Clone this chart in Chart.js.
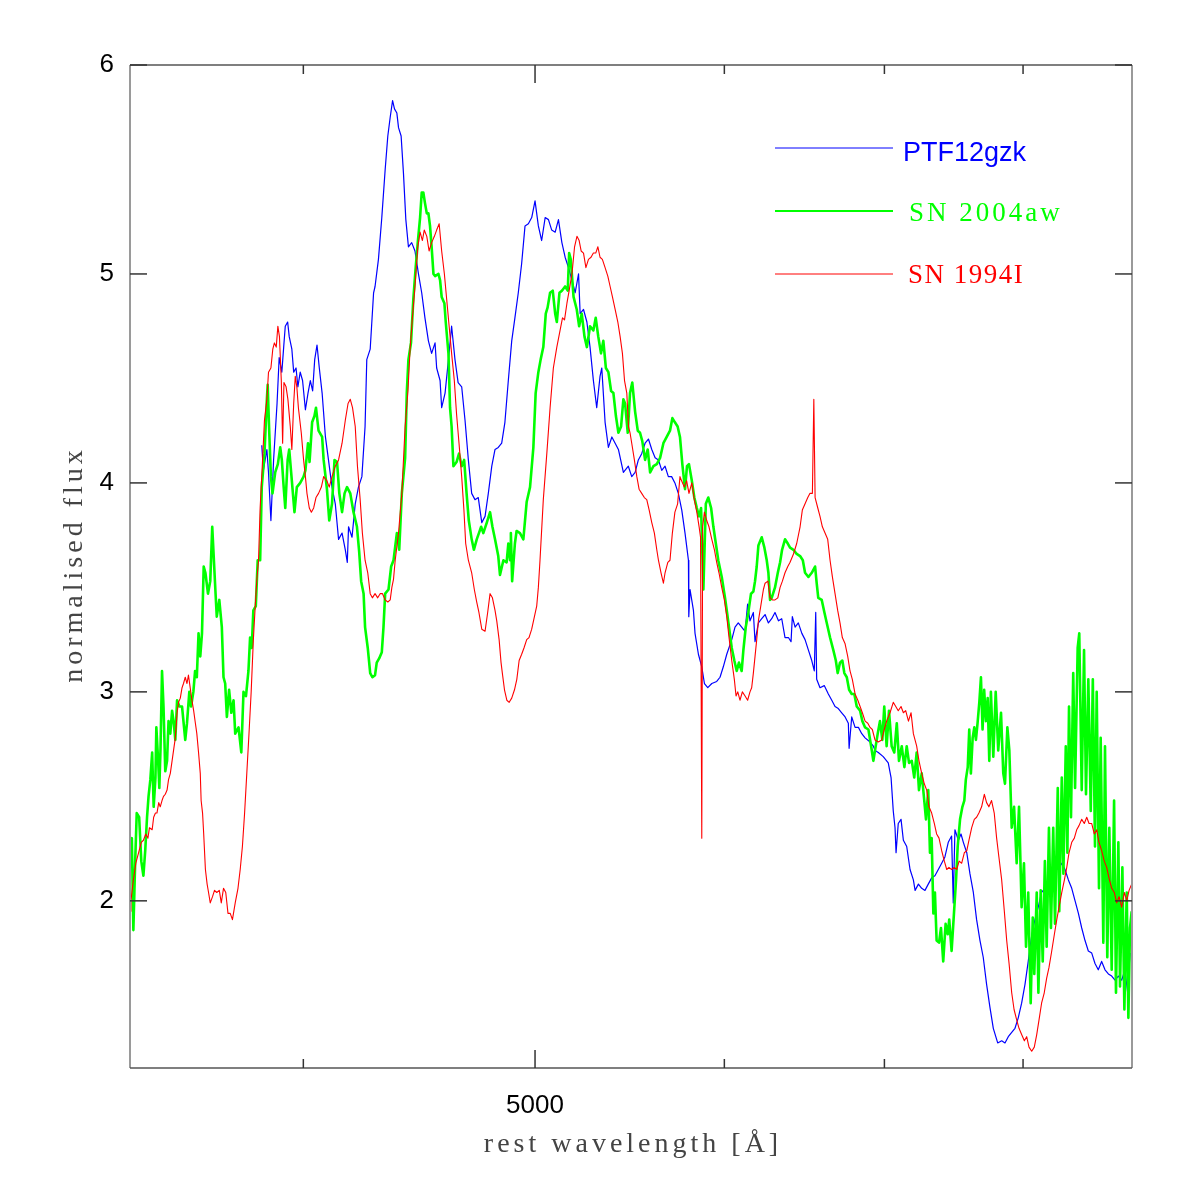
<!DOCTYPE html>
<html><head><meta charset="utf-8">
<script src="https://cdn.jsdelivr.net/npm/chart.js@4.4.0/dist/chart.umd.min.js"></script>
<style>html,body{margin:0;padding:0;background:#fff;}canvas{display:block;}</style>
</head><body>
<canvas id="c" width="1196" height="1196"></canvas>
<script>
// ---- data (wavelength [Å], normalised flux) ----
const seriesLabels = ['PTF12gzk', 'SN 2004aw', 'SN 1994I'];
const xTitle = 'rest wavelength [Å]';
const yTitle = 'normalised flux';
const xTicksMajor = [5000];
const xTicksMinor = [4000, 6000, 7000, 8000];
const yTicks = [2, 3, 4, 5, 6];
const xRange = [3385, 8885];
const yRange = [1.2, 6];

const ptf12gzk = [[3843,4.18],[3849,4.06],[3862,4.16],[3868,4.05],[3877,3.82],[3887,4.11],[3900,4.38],[3908,4.60],[3918,4.53],[3925,4.65],
[3931,4.75],[3940,4.77],[3946,4.70],[3956,4.64],[3963,4.53],[3972,4.55],[3979,4.46],[3988,4.53],[3997,4.49],[4008,4.35],
[4018,4.43],[4027,4.49],[4036,4.44],[4044,4.59],[4053,4.66],[4062,4.55],[4073,4.43],[4086,4.22],[4098,4.11],[4112,3.98],
[4125,3.90],[4138,3.73],[4152,3.76],[4165,3.68],[4173,3.62],[4178,3.79],[4192,3.74],[4205,3.90],[4218,3.98],[4232,4.03],
[4245,4.27],[4252,4.59],[4266,4.64],[4280,4.91],[4286,4.94],[4300,5.07],[4314,5.27],[4328,5.50],[4339,5.66],[4349,5.75],
[4359,5.83],[4367,5.79],[4377,5.77],[4384,5.70],[4395,5.66],[4405,5.48],[4415,5.26],[4426,5.13],[4440,5.15],[4454,5.11],
[4469,5.00],[4483,4.91],[4497,4.79],[4512,4.68],[4526,4.62],[4541,4.67],[4548,4.55],[4563,4.49],[4570,4.36],[4585,4.43],
[4600,4.59],[4614,4.75],[4629,4.59],[4643,4.48],[4659,4.46],[4674,4.30],[4689,4.11],[4704,3.95],[4719,3.92],[4734,3.93],
[4750,3.81],[4765,3.84],[4780,3.95],[4796,4.08],[4811,4.16],[4826,4.17],[4842,4.19],[4857,4.29],[4873,4.49],[4889,4.68],
[4904,4.79],[4920,4.91],[4936,5.05],[4952,5.23],[4968,5.24],[4984,5.27],[5000,5.35],[5016,5.23],[5032,5.16],[5049,5.27],
[5065,5.26],[5081,5.21],[5098,5.20],[5114,5.26],[5131,5.15],[5147,5.08],[5164,5.03],[5181,4.97],[5197,4.91],[5214,5.00],
[5222,4.81],[5239,4.83],[5256,4.77],[5272,4.65],[5289,4.49],[5306,4.36],[5323,4.51],[5332,4.55],[5349,4.29],[5366,4.17],
[5384,4.22],[5401,4.19],[5418,4.16],[5444,4.05],[5470,4.08],[5488,4.03],[5506,4.05],[5523,4.11],[5541,4.14],[5559,4.19],
[5577,4.21],[5595,4.16],[5613,4.12],[5631,4.11],[5649,4.06],[5667,4.08],[5685,4.03],[5703,4.03],[5721,4.00],[5740,3.95],
[5759,3.87],[5777,3.76],[5796,3.63],[5798,3.36],[5805,3.49],[5824,3.39],[5833,3.28],[5852,3.18],[5871,3.12],[5886,3.04],
[5905,3.02],[5928,3.04],[5956,3.05],[5975,3.07],[5994,3.12],[6014,3.18],[6043,3.25],[6062,3.31],[6081,3.33],[6101,3.31],
[6121,3.29],[6136,3.42],[6150,3.34],[6170,3.38],[6180,3.24],[6200,3.33],[6220,3.35],[6240,3.37],[6260,3.33],[6280,3.35],
[6300,3.38],[6321,3.34],[6341,3.35],[6361,3.26],[6382,3.26],[6398,3.24],[6406,3.36],[6423,3.31],[6443,3.33],[6465,3.28],
[6485,3.25],[6506,3.20],[6527,3.15],[6543,3.10],[6552,3.38],[6558,3.06],[6579,3.02],[6606,3.03],[6632,2.99],[6654,2.96],
[6675,2.93],[6696,2.92],[6718,2.90],[6740,2.88],[6761,2.85],[6766,2.73],[6783,2.88],[6805,2.83],[6827,2.83],[6849,2.80],
[6871,2.78],[6904,2.76],[6926,2.74],[6937,2.72],[6959,2.71],[6992,2.69],[7026,2.66],[7045,2.59],[7060,2.43],[7072,2.35],
[7079,2.23],[7094,2.37],[7113,2.39],[7129,2.29],[7152,2.26],[7175,2.15],[7198,2.10],[7210,2.05],[7233,2.08],[7256,2.06],
[7279,2.05],[7302,2.08],[7326,2.11],[7349,2.12],[7373,2.15],[7397,2.18],[7420,2.21],[7444,2.28],[7468,2.31],[7480,1.99],
[7492,2.34],[7517,2.29],[7536,2.32],[7553,2.28],[7578,2.23],[7601,2.13],[7626,2.04],[7650,1.91],[7675,1.81],[7699,1.73],
[7724,1.60],[7749,1.49],[7774,1.39],[7807,1.32],[7837,1.33],[7862,1.32],[7887,1.35],[7913,1.37],[7938,1.39],[7963,1.44],
[7989,1.51],[8015,1.60],[8040,1.71],[8066,1.83],[8092,1.91],[8118,1.97],[8144,2.04],[8170,2.06],[8197,2.10],[8224,2.15],
[8250,2.16],[8277,2.15],[8304,2.18],[8330,2.15],[8357,2.10],[8384,2.06],[8411,2.00],[8438,1.94],[8465,1.87],[8492,1.81],
[8519,1.76],[8547,1.75],[8574,1.70],[8601,1.67],[8629,1.71],[8657,1.67],[8685,1.65],[8713,1.64],[8741,1.62],[8769,1.64],
[8797,1.62],[8825,1.67],[8848,1.56],[8868,1.75]];

const sn2004aw = [[3385,2.28],[3391,2.30],[3396,1.86],[3402,2.19],[3407,2.42],[3415,2.40],[3422,2.19],[3429,2.12],[3435,2.24],[3441,2.40],
[3446,2.50],[3452,2.58],[3458,2.71],[3463,2.45],[3469,2.59],[3472,2.83],[3478,2.67],[3482,2.54],[3486,2.73],[3491,3.10],
[3496,2.93],[3502,2.62],[3508,2.67],[3513,2.86],[3519,2.80],[3525,2.91],[3530,2.86],[3536,2.77],[3542,2.96],[3550,2.93],
[3559,2.93],[3570,2.77],[3576,2.85],[3584,3.00],[3590,2.93],[3598,3.00],[3604,3.10],[3610,3.07],[3616,3.28],[3622,3.17],
[3628,3.28],[3634,3.60],[3640,3.57],[3649,3.47],[3657,3.53],[3664,3.79],[3675,3.49],[3680,3.36],[3689,3.44],[3698,3.31],
[3704,3.07],[3710,3.04],[3716,2.88],[3724,3.01],[3732,2.90],[3740,2.96],[3746,2.80],[3758,2.83],[3768,2.71],[3776,3.00],
[3785,2.98],[3794,3.10],[3800,3.26],[3806,3.21],[3812,3.39],[3821,3.41],[3828,3.63],[3837,3.63],[3843,3.98],[3853,4.14],
[3862,4.40],[3865,4.47],[3870,4.27],[3877,4.03],[3883,3.95],[3893,4.05],[3903,4.09],[3912,4.17],[3918,4.11],[3925,3.98],
[3931,3.88],[3940,4.11],[3946,4.16],[3956,4.01],[3966,3.86],[3975,3.98],[3988,4.00],[4001,4.03],[4008,4.06],[4018,4.19],
[4024,4.10],[4034,4.29],[4043,4.32],[4049,4.36],[4059,4.25],[4073,4.22],[4079,4.11],[4092,3.97],[4101,3.82],[4112,3.90],
[4122,4.11],[4132,4.10],[4141,3.95],[4152,3.86],[4162,3.95],[4172,3.98],[4185,3.95],[4198,3.86],[4212,3.79],[4221,3.67],
[4229,3.53],[4239,3.47],[4245,3.31],[4256,3.21],[4266,3.09],[4275,3.07],[4286,3.08],[4293,3.14],[4303,3.16],[4314,3.19],
[4321,3.31],[4328,3.47],[4342,3.49],[4353,3.60],[4363,3.63],[4377,3.76],[4387,3.68],[4398,3.95],[4412,4.12],[4419,4.43],
[4426,4.59],[4437,4.67],[4447,4.88],[4457,5.03],[4466,5.15],[4476,5.27],[4483,5.39],[4490,5.39],[4497,5.34],[4505,5.29],
[4512,5.29],[4519,5.23],[4526,5.13],[4534,5.00],[4541,4.99],[4556,5.00],[4563,4.97],[4570,4.89],[4582,4.86],[4588,4.77],
[4600,4.62],[4607,4.36],[4614,4.27],[4622,4.08],[4636,4.10],[4647,4.14],[4659,4.08],[4670,4.11],[4681,3.95],[4691,3.82],
[4704,3.73],[4714,3.68],[4727,3.73],[4737,3.76],[4747,3.79],[4757,3.76],[4773,3.81],[4788,3.86],[4799,3.79],[4811,3.73],
[4826,3.65],[4834,3.56],[4850,3.63],[4865,3.62],[4873,3.71],[4881,3.63],[4885,3.76],[4891,3.53],[4904,3.71],[4912,3.77],
[4928,3.76],[4944,3.73],[4960,3.91],[4976,3.98],[4992,4.17],[5003,4.43],[5016,4.53],[5027,4.59],[5040,4.65],[5052,4.81],
[5061,4.84],[5073,4.91],[5086,4.92],[5098,4.81],[5106,4.77],[5119,4.91],[5131,4.92],[5147,4.94],[5160,4.92],[5167,5.10],
[5175,5.07],[5189,4.89],[5205,4.83],[5217,4.75],[5230,4.81],[5244,4.70],[5256,4.65],[5272,4.75],[5289,4.73],[5301,4.79],
[5314,4.70],[5328,4.62],[5340,4.68],[5353,4.55],[5366,4.53],[5380,4.44],[5392,4.43],[5405,4.32],[5418,4.24],[5432,4.27],
[5444,4.40],[5453,4.38],[5467,4.24],[5479,4.43],[5491,4.48],[5506,4.34],[5520,4.25],[5532,4.24],[5544,4.20],[5559,4.11],
[5573,4.16],[5586,4.05],[5604,4.08],[5622,4.09],[5640,4.12],[5658,4.19],[5676,4.22],[5694,4.25],[5707,4.31],[5721,4.29],
[5736,4.27],[5749,4.22],[5762,4.09],[5777,3.97],[5788,4.08],[5799,4.09],[5815,4.01],[5829,3.93],[5843,3.88],[5856,3.84],
[5867,3.88],[5880,3.49],[5894,3.90],[5908,3.93],[5924,3.88],[5937,3.79],[5951,3.71],[5965,3.63],[5985,3.55],[6004,3.45],
[6014,3.39],[6027,3.31],[6043,3.21],[6058,3.15],[6072,3.10],[6085,3.14],[6101,3.10],[6111,3.20],[6125,3.31],[6140,3.38],
[6156,3.47],[6170,3.48],[6180,3.53],[6190,3.60],[6200,3.70],[6220,3.74],[6236,3.69],[6250,3.63],[6260,3.57],[6270,3.44],
[6280,3.45],[6300,3.50],[6317,3.57],[6331,3.62],[6343,3.68],[6361,3.73],[6378,3.71],[6392,3.69],[6413,3.68],[6433,3.66],
[6454,3.65],[6471,3.63],[6485,3.57],[6506,3.55],[6527,3.57],[6548,3.60],[6558,3.52],[6568,3.45],[6590,3.44],[6607,3.38],
[6622,3.33],[6643,3.26],[6664,3.20],[6680,3.15],[6692,3.09],[6707,3.14],[6722,3.15],[6735,3.09],[6751,3.07],[6766,3.01],
[6783,2.99],[6800,2.99],[6816,2.93],[6838,2.91],[6853,2.86],[6871,2.83],[6893,2.82],[6911,2.74],[6926,2.67],[6955,2.80],
[6970,2.86],[6986,2.77],[6999,2.93],[7015,2.74],[7031,2.91],[7049,2.74],[7067,2.71],[7084,2.85],[7099,2.67],[7118,2.74],
[7136,2.64],[7152,2.74],[7168,2.66],[7187,2.67],[7204,2.59],[7221,2.71],[7237,2.53],[7256,2.61],[7274,2.48],[7286,2.39],
[7302,2.53],[7314,2.23],[7326,2.30],[7338,1.94],[7349,2.04],[7361,1.81],[7378,1.80],[7392,1.87],[7408,1.71],[7425,1.89],
[7440,1.84],[7451,1.91],[7468,1.76],[7485,1.94],[7500,2.10],[7512,2.26],[7529,2.39],[7546,2.45],[7560,2.48],[7571,2.58],
[7585,2.64],[7596,2.82],[7608,2.61],[7621,2.78],[7633,2.83],[7645,2.77],[7657,2.85],[7670,2.95],[7682,3.07],[7694,2.82],
[7706,3.01],[7719,2.86],[7732,2.97],[7744,2.67],[7756,3.00],[7774,2.69],[7792,3.00],[7811,2.72],[7832,2.90],[7849,2.61],
[7862,2.56],[7880,2.83],[7895,2.72],[7913,2.35],[7931,2.45],[7951,2.18],[7969,2.45],[7989,1.97],[8007,2.18],[8023,1.78],
[8040,2.04],[8059,1.51],[8075,1.92],[8087,1.65],[8106,2.04],[8119,1.56],[8137,2.05],[8153,1.71],[8170,2.19],[8184,1.78],
[8202,2.35],[8218,1.87],[8236,2.35],[8250,1.89],[8272,2.54],[8284,1.95],[8304,2.59],[8317,2.13],[8336,2.74],[8349,2.23],
[8362,2.93],[8378,2.40],[8396,3.09],[8411,2.54],[8432,3.21],[8445,3.28],[8465,2.53],[8484,3.20],[8500,2.51],[8519,3.06],
[8539,2.43],[8556,3.06],[8574,2.26],[8588,3.00],[8607,2.06],[8621,2.78],[8643,1.80],[8657,2.74],[8676,1.73],[8693,2.35],
[8713,1.67],[8733,2.48],[8749,1.56],[8769,2.28],[8783,1.59],[8803,2.16],[8820,1.48],[8840,2.04],[8854,1.44],[8868,1.87],
[8882,1.95]];

const sn1994I = [[3385,1.95],[3388,2.00],[3396,2.10],[3404,2.18],[3413,2.23],[3422,2.28],[3429,2.29],[3437,2.32],[3444,2.30],[3449,2.35],
[3458,2.34],[3463,2.40],[3469,2.42],[3474,2.42],[3480,2.47],[3485,2.45],[3491,2.48],[3496,2.50],[3502,2.51],[3508,2.53],
[3513,2.58],[3519,2.61],[3525,2.67],[3530,2.72],[3536,2.78],[3542,2.90],[3547,2.95],[3553,2.97],[3559,3.02],[3564,3.04],
[3570,3.07],[3576,3.04],[3581,3.08],[3587,3.02],[3593,2.96],[3599,2.91],[3605,2.85],[3610,2.80],[3616,2.71],[3622,2.61],
[3625,2.48],[3630,2.42],[3634,2.32],[3640,2.15],[3646,2.08],[3651,2.04],[3657,1.99],[3665,2.02],[3672,2.05],[3680,2.04],
[3689,2.05],[3696,1.99],[3704,2.06],[3712,2.04],[3720,1.94],[3728,1.94],[3736,1.91],[3746,1.99],[3756,2.06],[3764,2.15],
[3772,2.26],[3780,2.42],[3788,2.61],[3796,2.80],[3804,3.00],[3812,3.25],[3818,3.39],[3825,3.54],[3831,3.63],[3837,3.88],
[3846,4.11],[3853,4.30],[3862,4.40],[3868,4.53],[3877,4.55],[3884,4.64],[3890,4.67],[3897,4.65],[3903,4.75],[3909,4.70],
[3916,4.49],[3921,4.19],[3926,4.48],[3934,4.46],[3941,4.40],[3950,4.27],[3956,4.16],[3963,4.38],[3969,4.51],[3975,4.46],
[3981,4.36],[3992,4.24],[4001,4.11],[4008,4.03],[4014,3.95],[4023,3.88],[4031,3.86],[4040,3.88],[4049,3.93],[4059,3.95],
[4070,3.98],[4079,4.03],[4092,4.01],[4101,3.98],[4112,4.03],[4125,4.08],[4138,4.11],[4152,4.19],[4165,4.30],[4176,4.38],
[4185,4.40],[4194,4.36],[4205,4.27],[4214,4.08],[4225,3.92],[4234,3.76],[4245,3.63],[4256,3.57],[4266,3.47],[4275,3.45],
[4286,3.47],[4297,3.45],[4307,3.47],[4317,3.47],[4328,3.44],[4339,3.43],[4349,3.44],[4356,3.50],[4363,3.54],[4370,3.63],
[4384,3.76],[4398,3.95],[4412,4.27],[4424,4.44],[4433,4.64],[4443,4.79],[4454,4.94],[4466,5.13],[4476,5.20],[4486,5.16],
[4494,5.21],[4505,5.18],[4515,5.11],[4526,5.15],[4538,5.18],[4548,5.21],[4559,5.24],[4570,5.11],[4582,5.00],[4592,4.88],
[4603,4.75],[4614,4.62],[4626,4.49],[4636,4.33],[4647,4.19],[4659,4.03],[4669,3.87],[4677,3.71],[4689,3.63],[4704,3.57],
[4716,3.49],[4727,3.43],[4737,3.38],[4750,3.30],[4765,3.29],[4777,3.38],[4788,3.47],[4799,3.45],[4811,3.39],[4819,3.34],
[4830,3.25],[4839,3.14],[4845,3.09],[4855,3.01],[4866,2.96],[4877,2.95],[4889,2.97],[4902,3.01],[4913,3.06],[4924,3.15],
[4936,3.18],[4947,3.21],[4960,3.25],[4971,3.26],[4984,3.30],[4997,3.36],[5008,3.41],[5016,3.50],[5024,3.63],[5040,3.92],
[5057,4.14],[5073,4.36],[5089,4.55],[5106,4.65],[5122,4.73],[5134,4.79],[5144,4.78],[5156,4.86],[5167,4.92],[5181,5.00],
[5194,5.13],[5206,5.18],[5217,5.16],[5227,5.11],[5239,5.10],[5251,5.03],[5264,5.07],[5277,5.08],[5289,5.10],[5301,5.10],
[5312,5.13],[5323,5.08],[5335,5.07],[5349,5.03],[5363,4.99],[5375,4.94],[5387,4.89],[5401,4.83],[5415,4.77],[5427,4.70],
[5439,4.62],[5450,4.49],[5462,4.43],[5471,4.27],[5479,4.24],[5488,4.19],[5502,4.11],[5515,4.03],[5527,3.97],[5541,3.95],
[5555,3.93],[5568,3.92],[5581,3.87],[5595,3.81],[5609,3.76],[5622,3.68],[5631,3.63],[5645,3.57],[5658,3.52],[5667,3.57],
[5682,3.62],[5694,3.63],[5707,3.76],[5721,3.86],[5736,3.90],[5749,4.03],[5758,4.01],[5773,3.98],[5786,4.01],[5799,3.95],
[5815,4.00],[5829,3.92],[5843,3.86],[5856,3.79],[5864,3.74],[5871,2.30],[5876,3.79],[5886,3.86],[5899,3.82],[5912,3.79],
[5928,3.73],[5943,3.68],[5956,3.62],[5969,3.57],[5985,3.50],[6000,3.44],[6014,3.36],[6027,3.26],[6043,3.15],[6058,3.06],
[6068,2.98],[6078,3.00],[6091,2.96],[6105,3.00],[6121,2.98],[6136,2.96],[6150,3.00],[6160,3.02],[6170,3.09],[6180,3.17],
[6190,3.25],[6200,3.34],[6216,3.42],[6230,3.49],[6240,3.52],[6257,3.53],[6270,3.45],[6284,3.44],[6300,3.44],[6317,3.45],
[6331,3.50],[6345,3.53],[6361,3.57],[6378,3.60],[6392,3.62],[6413,3.66],[6433,3.71],[6454,3.79],[6468,3.87],[6485,3.90],
[6502,3.93],[6516,3.95],[6531,3.95],[6540,4.40],[6548,3.93],[6565,3.88],[6579,3.84],[6594,3.79],[6611,3.76],[6628,3.73],
[6643,3.63],[6658,3.55],[6675,3.47],[6692,3.39],[6707,3.33],[6722,3.26],[6740,3.23],[6757,3.17],[6772,3.10],[6787,3.06],
[6805,2.99],[6823,2.96],[6838,2.93],[6853,2.90],[6871,2.86],[6889,2.85],[6904,2.83],[6919,2.82],[6937,2.77],[6959,2.76],
[6982,2.77],[6999,2.82],[7015,2.86],[7038,2.90],[7060,2.95],[7077,2.93],[7094,2.91],[7113,2.93],[7129,2.90],[7145,2.91],
[7164,2.86],[7182,2.90],[7198,2.80],[7221,2.74],[7237,2.67],[7256,2.61],[7274,2.56],[7291,2.53],[7307,2.45],[7326,2.42],
[7345,2.37],[7361,2.32],[7378,2.30],[7397,2.24],[7416,2.19],[7433,2.15],[7449,2.16],[7468,2.15],[7487,2.16],[7505,2.15],
[7522,2.19],[7541,2.18],[7560,2.23],[7578,2.24],[7594,2.29],[7614,2.35],[7633,2.39],[7650,2.40],[7667,2.42],[7687,2.45],
[7707,2.51],[7724,2.47],[7741,2.45],[7761,2.48],[7781,2.42],[7799,2.30],[7816,2.21],[7837,2.10],[7857,1.95],[7875,1.81],
[7893,1.70],[7913,1.56],[7931,1.48],[7951,1.43],[7969,1.39],[7989,1.36],[8010,1.33],[8028,1.35],[8046,1.30],[8067,1.28],
[8087,1.30],[8106,1.36],[8124,1.43],[8144,1.51],[8165,1.56],[8184,1.63],[8202,1.68],[8224,1.76],[8245,1.84],[8264,1.91],
[8282,1.97],[8304,2.04],[8325,2.10],[8344,2.16],[8362,2.23],[8384,2.28],[8405,2.30],[8424,2.34],[8443,2.36],[8465,2.39],
[8486,2.37],[8506,2.40],[8525,2.37],[8547,2.37],[8568,2.32],[8588,2.34],[8607,2.28],[8629,2.24],[8651,2.19],[8671,2.16],
[8690,2.11],[8713,2.06],[8735,2.04],[8755,1.99],[8775,2.02],[8797,1.97],[8820,2.04],[8840,2.00],[8860,2.05],[8882,2.08]];

// ---- chart ----
const toXY = arr => arr.map(p => ({x: p[0], y: p[1]}));
const lineSeg = (ctx, x1, y1, x2, y2) => { ctx.beginPath(); ctx.moveTo(x1, y1); ctx.lineTo(x2, y2); ctx.stroke(); };

const legendFonts = [
  {font: '27px "Liberation Sans"', spacing: '0px', dx: 10, dy: 13},
  {font: '27px "Liberation Serif"', spacing: '3px', dx: 16, dy: 10},
  {font: '27px "Liberation Serif"', spacing: '1.5px', dx: 15, dy: 9}
];

const framePlugin = {
  id: 'framePlugin',
  afterDraw(chart) {
    const {ctx, chartArea: a, scales} = chart;
    ctx.save();
    // frame
    ctx.lineWidth = 2; ctx.strokeStyle = '#9a9a9a';
    lineSeg(ctx, a.left, a.top, a.left, a.bottom);
    lineSeg(ctx, a.right, a.top, a.right, a.bottom);
    ctx.lineWidth = 1.5; ctx.strokeStyle = '#555';
    lineSeg(ctx, a.left, a.top, a.right, a.top);
    lineSeg(ctx, a.left, a.bottom, a.right, a.bottom);
    // inward ticks
    ctx.strokeStyle = '#333'; ctx.lineWidth = 1.5;
    scales.x.ticks.forEach(t => {
      const px = scales.x.getPixelForValue(t.value);
      const len = xTicksMajor.includes(t.value) ? 18 : 9;
      lineSeg(ctx, px, a.bottom, px, a.bottom - len);
      lineSeg(ctx, px, a.top, px, a.top + len);
    });
    scales.y.ticks.forEach(t => {
      const py = scales.y.getPixelForValue(t.value);
      lineSeg(ctx, a.left, py, a.left + 17, py);
      lineSeg(ctx, a.right, py, a.right - 17, py);
    });
    // axis titles
    ctx.fillStyle = '#444';
    ctx.font = '28px "Liberation Serif"';
    ctx.letterSpacing = '4px';
    ctx.textAlign = 'center';
    ctx.textBaseline = 'alphabetic';
    ctx.fillText(xTitle, (a.left + a.right) / 2 + 2, 1152);
    ctx.save();
    ctx.translate(82, (a.top + a.bottom) / 2);
    ctx.rotate(-Math.PI / 2);
    ctx.fillText(yTitle, 2, 0);
    ctx.restore();
    // legend
    const lx0 = 775, lx1 = 893, ly = [148, 211, 274];
    chart.data.datasets.forEach((ds, i) => {
      ctx.strokeStyle = ds.borderColor;
      ctx.lineWidth = i === 1 ? 2 : 1;
      lineSeg(ctx, lx0, ly[i], lx1, ly[i]);
      ctx.fillStyle = ds.borderColor;
      ctx.font = legendFonts[i].font;
      ctx.letterSpacing = legendFonts[i].spacing;
      ctx.textAlign = 'left';
      ctx.textBaseline = 'alphabetic';
      ctx.fillText(ds.label, lx1 + legendFonts[i].dx, ly[i] + legendFonts[i].dy);
    });
    ctx.restore();
  }
};

const tickFont = {family: 'Liberation Sans', size: 26};

new Chart(document.getElementById('c'), {
  type: 'line',
  data: {
    datasets: [
      {label: seriesLabels[0], data: toXY(ptf12gzk), borderColor: '#0000ff', borderWidth: 1.2, order: 2},
      {label: seriesLabels[1], data: toXY(sn2004aw), borderColor: '#00ff00', borderWidth: 2.6, order: 1},
      {label: seriesLabels[2], data: toXY(sn1994I), borderColor: '#ff0000', borderWidth: 1.1, order: 0}
    ]
  },
  options: {
    responsive: false,
    animation: false,
    layout: {padding: 0},
    elements: {point: {radius: 0}, line: {tension: 0, fill: false, borderJoinStyle: 'round'}},
    plugins: {legend: {display: false}, tooltip: {enabled: false}},
    scales: {
      x: {
        type: 'logarithmic', position: 'bottom', min: xRange[0], max: xRange[1],
        grid: {display: false, drawTicks: false}, border: {display: false},
        afterBuildTicks: s => { s.ticks = [...xTicksMinor, ...xTicksMajor].sort((p, q) => p - q).map(v => ({value: v})); },
        ticks: {
          autoSkip: false, maxRotation: 0, color: '#000', font: tickFont, padding: 22,
          callback: v => xTicksMajor.includes(v) ? String(v) : ''
        },
        afterFit: s => { s.height = 128; }
      },
      x2: {
        type: 'logarithmic', position: 'top', min: xRange[0], max: xRange[1],
        grid: {display: false, drawTicks: false}, border: {display: false},
        ticks: {display: false},
        afterFit: s => { s.height = 65; }
      },
      y: {
        type: 'linear', position: 'left', min: yRange[0], max: yRange[1],
        grid: {display: false, drawTicks: false}, border: {display: false},
        afterBuildTicks: s => { s.ticks = yTicks.map(v => ({value: v})); },
        ticks: {color: '#000', font: tickFont, padding: 16, callback: v => String(v)},
        afterFit: s => { s.width = 130; }
      },
      y2: {
        type: 'linear', position: 'right', min: yRange[0], max: yRange[1],
        grid: {display: false, drawTicks: false}, border: {display: false},
        ticks: {display: false},
        afterFit: s => { s.width = 64; }
      }
    }
  },
  plugins: [framePlugin]
});
</script>
</body></html>
